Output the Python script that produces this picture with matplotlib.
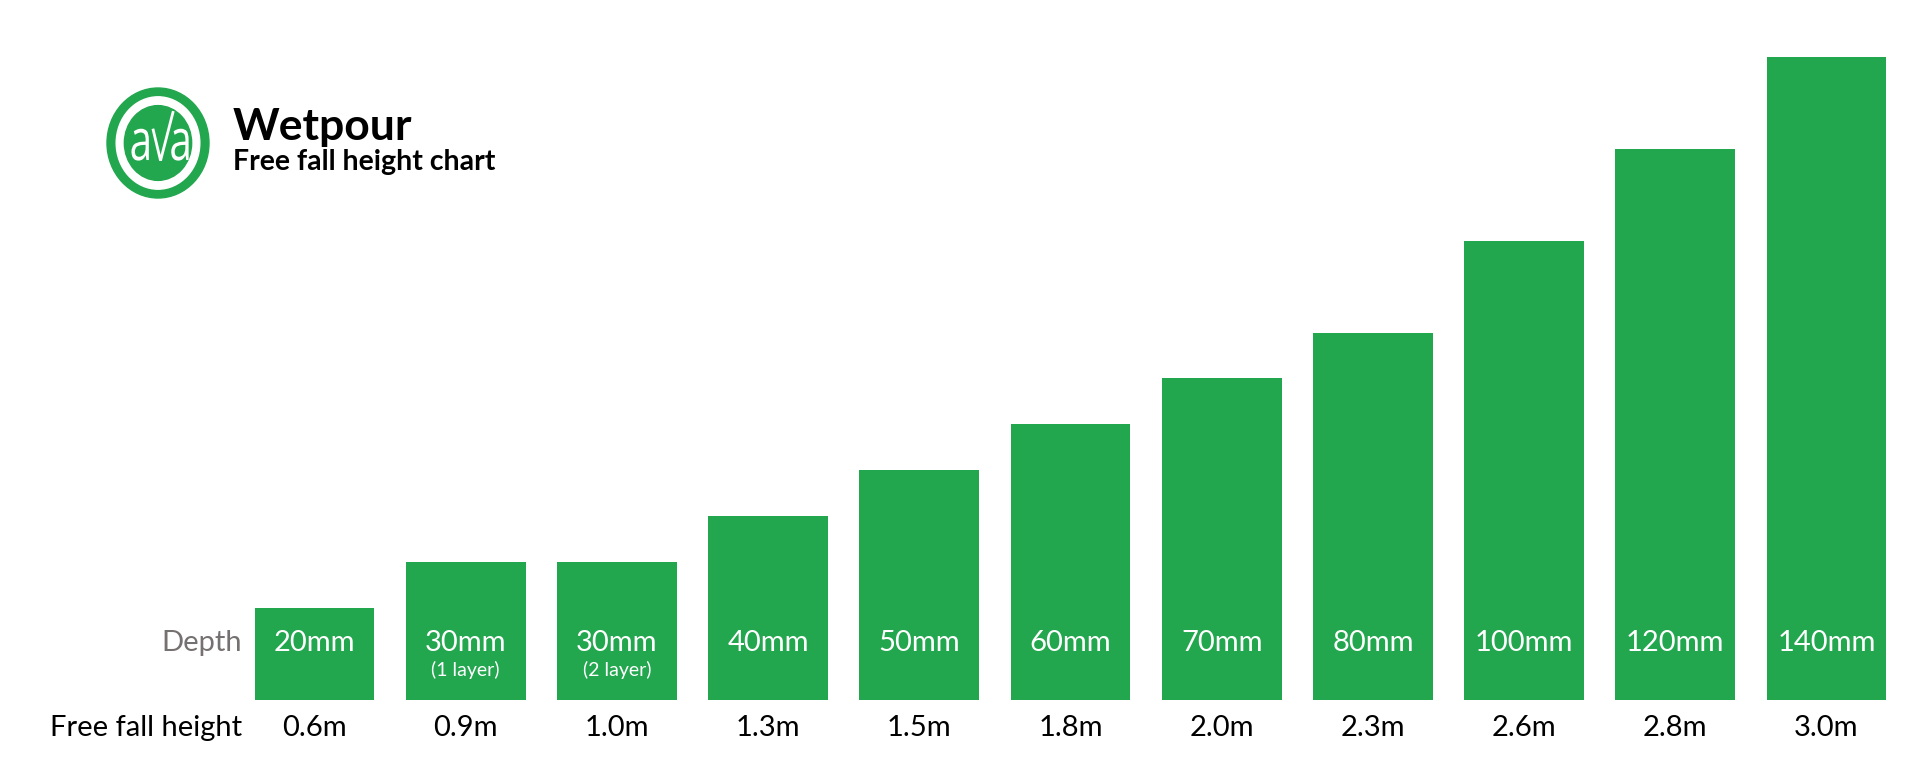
import matplotlib
matplotlib.use("Agg")
import matplotlib.pyplot as plt
from matplotlib.patches import Ellipse, PathPatch
from matplotlib.textpath import TextPath
from matplotlib.font_manager import FontProperties
import matplotlib.transforms as mtransforms

# ---- data ----
depth_mm = [20, 30, 30, 40, 50, 60, 70, 80, 100, 120, 140]
depth_labels = ["20mm", "30mm", "30mm", "40mm", "50mm", "60mm", "70mm",
                "80mm", "100mm", "120mm", "140mm"]
depth_notes = ["", "(1 layer)", "(2 layer)", "", "", "", "", "", "", "", ""]
fall_height_labels = ["0.6m", "0.9m", "1.0m", "1.3m", "1.5m", "1.8m", "2.0m",
                      "2.3m", "2.6m", "2.8m", "3.0m"]
title = "Wetpour"
subtitle = "Free fall height chart"

GREEN = "#22A74E"
GREY = "#767171"
FONT = ["Lato", "DejaVu Sans"]
plt.rcParams["font.family"] = FONT

W, H = 1920, 771
fig = plt.figure(figsize=(W / 100, H / 100), dpi=100)
fig.patch.set_facecolor("white")

# axes spanning the figure; limits map data to the reference pixel layout
ax = fig.add_axes([0, 0, 1, 1])
ax.set_axis_off()
spacing_px = 151.2
first_center_px = 314.5
ax.set_xlim(-first_center_px / spacing_px, (W - first_center_px) / spacing_px)
px_per_mm = 4.593
base_px = H - 700
ax.set_ylim(-base_px / px_per_mm, (H - base_px) / px_per_mm)

x = list(range(len(depth_mm)))
ax.bar(x, depth_mm, width=0.792, color=GREEN, edgecolor="none", zorder=2)

def yfig(px_from_top):
    return 1 - px_from_top / H

blend = mtransforms.blended_transform_factory(ax.transData, fig.transFigure)

FS = 21
for xi, lab, note, fh in zip(x, depth_labels, depth_notes, fall_height_labels):
    ax.text(xi, yfig(651), lab, transform=blend, ha="center", va="baseline",
            color="white", fontsize=FS, zorder=3)
    if note:
        ax.text(xi, yfig(676), note, transform=blend, ha="center", va="baseline",
                color="white", fontsize=14, zorder=3)
    ax.text(xi, yfig(736), fh, transform=blend, ha="center", va="baseline",
            color="black", fontsize=FS, zorder=3)

fig.text(242 / W, yfig(651), "Depth", ha="right", va="baseline",
         color=GREY, fontsize=FS)
fig.text(242 / W, yfig(736), "Free fall height", ha="right", va="baseline",
         color="black", fontsize=FS)

fig.text(233 / W, yfig(140), title, ha="left", va="baseline",
         color="black", fontsize=32, fontweight="bold")
fig.text(233 / W, yfig(170), subtitle, ha="left", va="baseline",
         color="black", fontsize=20.5, fontweight="bold")

# ---- logo (slightly tall ellipse) ----
rx_px, ry_px = 51, 55          # outer radii in pixels
cx, cy = 158, 143              # centre, pixels from top-left
m = 1.2                        # axes half-size in units of the outer radii
lax = fig.add_axes([(cx - m * rx_px) / W, (H - cy - m * ry_px) / H,
                    2 * m * rx_px / W, 2 * m * ry_px / H])
lax.set_xlim(-m, m)
lax.set_ylim(-m, m)
lax.set_axis_off()
lax.patch.set_alpha(0)
lax.add_patch(Ellipse((0, 0), 2.0, 2.0, color=GREEN, clip_on=False))
lax.add_patch(Ellipse((0, 0), 1.64, 1.68, color="white", clip_on=False))
lax.add_patch(Ellipse((0, 0), 1.32, 1.36, color=GREEN, clip_on=False))

def glyph(ch, x0, x1, y0, y1):
    tp = TextPath((0, 0), ch, size=1, prop=FontProperties(family=["Open Sans", "DejaVu Sans"]))
    ext = tp.get_extents()
    tr = (mtransforms.Affine2D()
          .translate(-ext.x0, -ext.y0)
          .scale((x1 - x0) / ext.width, (y1 - y0) / ext.height)
          .translate(x0, y0))
    lax.add_patch(PathPatch(tr.transform_path(tp), color="white", lw=0))

glyph("a", -0.52, -0.18, -0.32, 0.26)
glyph("a", 0.26, 0.60, -0.32, 0.26)
lax.plot([-0.10, 0.05, 0.30], [0.26, -0.32, 0.58], color="white", lw=2.0,
         solid_joinstyle="miter", solid_capstyle="butt")

fig.savefig("out.png", dpi=100, facecolor="white")
